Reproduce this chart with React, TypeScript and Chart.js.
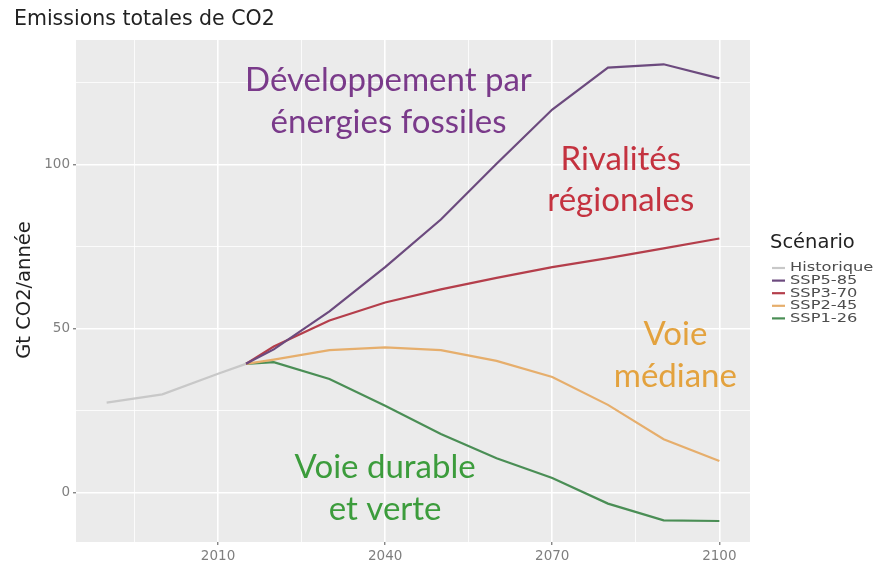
import React, { useEffect, useRef } from "react";
import { Chart, registerables } from "chart.js";

Chart.register(...registerables);

const histYears = [1990, 2000, 2010, 2015];
const histValues = [27.5, 30, 36.3, 39.3];

const sspYears = [2015, 2020, 2030, 2040, 2050, 2060, 2070, 2080, 2090, 2100];
const ssp585 = [39.3, 43.7, 55.3, 68.8, 83.3, 100.3, 116.8, 129.6, 130.6, 126.3];
const ssp370 = [39.3, 44.6, 52.5, 58.0, 62.0, 65.5, 68.8, 71.5, 74.5, 77.5];
const ssp245 = [39.3, 40.6, 43.5, 44.3, 43.5, 40.2, 35.3, 26.8, 16.3, 9.7];
const ssp126 = [39.3, 39.8, 34.7, 26.5, 17.9, 10.5, 4.5, -3.3, -8.4, -8.6];

const seriesNames = ["Historique", "SSP5-85", "SSP3-70", "SSP2-45", "SSP1-26"];
const xMajorTicks = [2010, 2040, 2070, 2100];
const xMinorTicks = [1995, 2025, 2055, 2085];
const yMajorTicks = [0, 50, 100];
const yMinorTicks = [25, 75, 125];

const titleText = "Emissions totales de CO2";
const yAxisTitle = "Gt CO2/année";
const legendTitle = "Scénario";

const annotations = [
  { lines: ["Développement par", "énergies fossiles"], x: 2040.6, y: [125.6, 113], color: "#7a3a8a" },
  { lines: ["Rivalités", "régionales"], x: 2082.3, y: [101.5, 89], color: "#c4323f" },
  { lines: ["Voie", "médiane"], x: 2092.1, y: [48.3, 35.5], color: "#e3a23e" },
  { lines: ["Voie durable", "et verte"], x: 2040, y: [7.9, -5.2], color: "#3c9c3c" },
];

const colors = ["#c8c8c8", "#6c4a7e", "#b43e4b", "#e6ae6c", "#4a8e55"];

export default function App() {
  const ref = useRef<HTMLCanvasElement>(null);
  useEffect(() => {
    document.body.style.margin = "0";
    const canvas = ref.current!;
    const toPts = (xs: number[], ys: number[]) => xs.map((x, i) => ({ x, y: ys[i] }));
    const datasets = [
      toPts(histYears, histValues),
      toPts(sspYears, ssp585),
      toPts(sspYears, ssp370),
      toPts(sspYears, ssp245),
      toPts(sspYears, ssp126),
    ].map((data, i) => ({
      label: seriesNames[i],
      data,
      borderColor: colors[i],
      backgroundColor: colors[i],
      borderWidth: 2.2,
      pointRadius: 0,
      tension: 0,
    }));

    const isMajorX = (v: number) => xMajorTicks.includes(v);
    const isMajorY = (v: number) => yMajorTicks.includes(v);

    const deco = {
      id: "deco",
      beforeDraw(chart: any) {
        const { ctx, chartArea } = chart;
        ctx.save();
        ctx.fillStyle = "#ebebeb";
        ctx.fillRect(chartArea.left, chartArea.top, chartArea.right - chartArea.left, chartArea.bottom - chartArea.top);
        ctx.restore();
      },
      afterDatasetsDraw(chart: any) {
        const { ctx } = chart;
        const xs = chart.scales.x;
        const ys = chart.scales.y;
        ctx.save();
        // annotations
        ctx.font = "33px Lato";
        ctx.textAlign = "center";
        ctx.textBaseline = "middle";
        for (const a of annotations) {
          ctx.fillStyle = a.color;
          a.lines.forEach((t, i) => {
            ctx.fillText(t, xs.getPixelForValue(a.x), ys.getPixelForValue(a.y[i]));
          });
        }
        // title
        ctx.textAlign = "left";
        ctx.textBaseline = "alphabetic";
        ctx.fillStyle = "#222";
        ctx.font = "20.5px 'DejaVu Sans'";
        ctx.fillText(titleText, 14, 25);
        // y-axis title
        ctx.save();
        ctx.translate(25, 290);
        ctx.rotate(-Math.PI / 2);
        ctx.textAlign = "center";
        ctx.textBaseline = "middle";
        ctx.font = "19.5px 'DejaVu Sans'";
        ctx.fillText(yAxisTitle, 0, 0);
        ctx.restore();
        // legend
        ctx.fillStyle = "#222";
        ctx.font = "19.5px 'DejaVu Sans'";
        ctx.textAlign = "left";
        ctx.textBaseline = "middle";
        ctx.fillText(legendTitle, 770, 243);
        ctx.font = "13px 'DejaVu Sans'";
        seriesNames.forEach((name, i) => {
          const y = 268 + i * 12.6;
          ctx.strokeStyle = colors[i];
          ctx.lineWidth = 2.2;
          ctx.beginPath();
          ctx.moveTo(772, y);
          ctx.lineTo(785, y);
          ctx.stroke();
          ctx.fillStyle = "#4d4d4d";
          ctx.save();
          ctx.translate(790, y);
          ctx.scale(1.25, 1);
          ctx.fillText(name, 0, 0);
          ctx.restore();
        });
        ctx.restore();
      },
    };

    const chart = new Chart(canvas, {
      type: "line",
      data: { datasets },
      options: {
        animation: false,
        responsive: false,
        maintainAspectRatio: false,
        layout: { padding: { left: 0, top: 40, right: 134, bottom: 0 } },
        plugins: { legend: { display: false }, title: { display: false }, tooltip: { enabled: false } },
        scales: {
          x: {
            type: "linear",
            min: 1984.5,
            max: 2105.5,
            afterBuildTicks: (s: any) => {
              s.ticks = [...xMinorTicks, ...xMajorTicks].sort((a, b) => a - b).map((v) => ({ value: v }));
            },
            afterFit: (s: any) => {
              s.height = 25;
            },
            border: { display: false },
            grid: {
              color: "#ffffff",
              lineWidth: (c: any) => (isMajorX(c.tick?.value) ? 1.6 : 0.8),
              tickColor: (c: any) => (isMajorX(c.tick?.value) ? "#555" : "rgba(0,0,0,0)"),
              tickLength: 3,
              tickWidth: 1,
            },
            ticks: {
              autoSkip: false,
              maxRotation: 0,
              padding: 3,
              color: "#7f7f7f",
              font: { family: "DejaVu Sans", size: 13.5 },
              callback: (v: any) => (isMajorX(Number(v)) ? String(v) : ""),
            },
          },
          y: {
            type: "linear",
            min: -15,
            max: 138,
            afterBuildTicks: (s: any) => {
              s.ticks = [...yMajorTicks, ...yMinorTicks].sort((a, b) => a - b).map((v) => ({ value: v }));
            },
            afterFit: (s: any) => {
              s.width = 76;
            },
            border: { display: false },
            grid: {
              color: "#ffffff",
              lineWidth: (c: any) => (isMajorY(c.tick?.value) ? 1.6 : 0.8),
              tickColor: (c: any) => (isMajorY(c.tick?.value) ? "#555" : "rgba(0,0,0,0)"),
              tickLength: 3,
              tickWidth: 1,
            },
            ticks: {
              autoSkip: false,
              padding: 3,
              color: "#7f7f7f",
              font: { family: "DejaVu Sans", size: 13.5 },
              callback: (v: any) => (isMajorY(Number(v)) ? String(v) : ""),
            },
          },
        },
      },
      plugins: [deco],
    });
    return () => chart.destroy();
  }, []);
  return <canvas ref={ref} width={884} height={567} style={{ display: "block" }} />;
}
